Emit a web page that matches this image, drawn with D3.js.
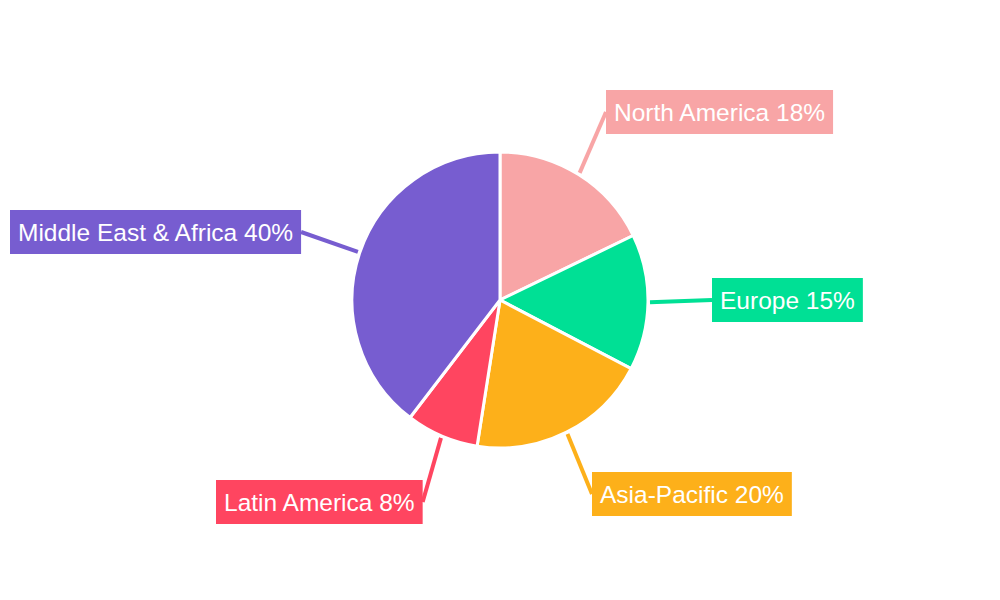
<!DOCTYPE html>
<html>
<head>
<meta charset="utf-8">
<script src="https://cdn.jsdelivr.net/npm/d3@7"></script>
<style>
  body { margin: 0; background: #fff; }
  text { font-family: "Liberation Sans", Arial, sans-serif; }
</style>
</head>
<body>
<svg id="chart" width="1000" height="600"></svg>
<script>
// chart data
var regions = ["North America", "Europe", "Asia-Pacific", "Latin America", "Middle East & Africa"];
var shares = [18, 15, 20, 8, 40];
var colors = ["#f8a5a6", "#00e095", "#fdb01a", "#ff4560", "#775dd0"];

// where each label box goes (left x, center y)
var labelBoxes = [[606, 112], [712, 300], [592, 494], [216, 502], [10, 232]];
var fontSize = 24.5;

var svg = d3.select("#chart");
var cx = 500, cy = 300, r = 148;
var g = svg.append("g").attr("transform", "translate(" + cx + "," + cy + ")");

var pie = d3.pie().sort(null).value(d => d);
var arcs = pie(shares);
var arc = d3.arc().innerRadius(0).outerRadius(r);

function labelText(i) { return regions[i] + " " + shares[i] + "%"; }
function boxWidth(i) {
  var t = svg.append("text").attr("font-size", fontSize).text(labelText(i));
  var w = t.node().getComputedTextLength();
  t.remove();
  return w + 16;
}

// connector lines first so slices sit on top
arcs.forEach(function(a, i) {
  var mid = (a.startAngle + a.endAngle) / 2;
  var sx = Math.sin(mid) * (r + 2), sy = -Math.cos(mid) * (r + 2);
  var b = labelBoxes[i];
  var bx = b[0] - cx, by = b[1] - cy;
  var tx = bx < 0 ? bx + boxWidth(i) : bx;
  g.append("line")
    .attr("x1", sx).attr("y1", sy)
    .attr("x2", tx).attr("y2", by)
    .attr("stroke", colors[i]).attr("stroke-width", 4);
});

g.selectAll("path").data(arcs).enter().append("path")
  .attr("d", arc)
  .attr("fill", (d, i) => colors[i])
  .attr("stroke", "#fff").attr("stroke-width", 3);

labelBoxes.forEach(function(b, i) {
  var w = boxWidth(i);
  svg.append("rect")
    .attr("x", b[0]).attr("y", b[1] - 22)
    .attr("width", w).attr("height", 44)
    .attr("fill", colors[i]);
  svg.append("text")
    .attr("x", b[0] + 8).attr("y", b[1] + 8.5)
    .attr("font-size", fontSize).attr("fill", "#fff")
    .text(labelText(i));
});
</script>
</body>
</html>
